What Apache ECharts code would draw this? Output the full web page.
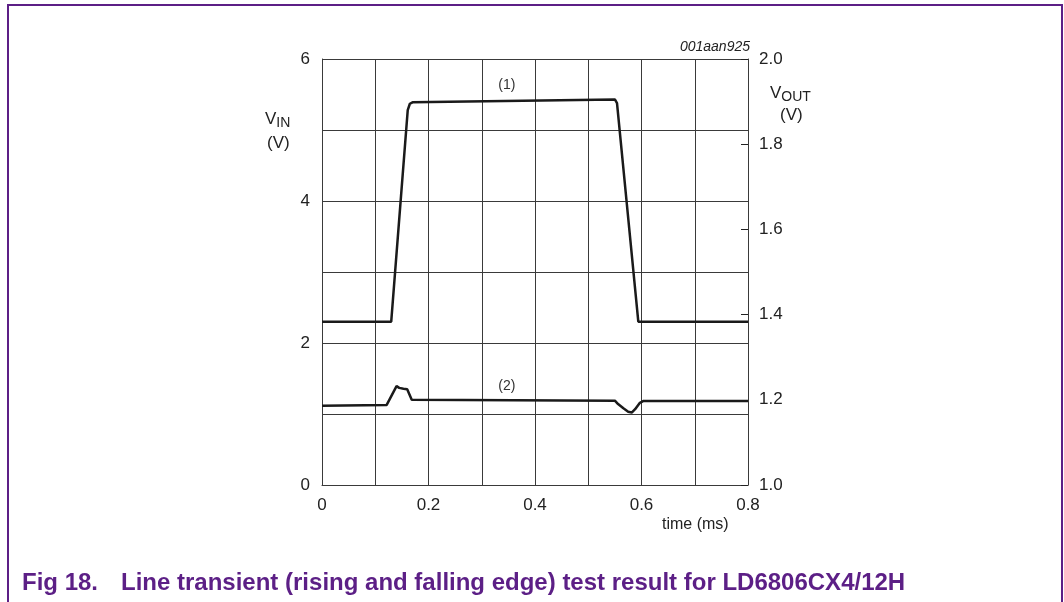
<!DOCTYPE html>
<html>
<head>
<meta charset="utf-8">
<script src="https://cdn.jsdelivr.net/npm/echarts@6/dist/echarts.min.js"></script>
<style>
  html, body { margin: 0; padding: 0; background: #fff; }
  #chart { width: 1064px; height: 602px; }
</style>
</head>
<body>
<div id="chart"></div>
<script>
// time in ms, VIN on left axis (V)
var vinTime = [0, 0.13, 0.161, 0.165, 0.17, 0.55, 0.554, 0.594, 0.8];
var vinValue = [2.3, 2.3, 5.28, 5.37, 5.39, 5.43, 5.38, 2.3, 2.3];

// VOUT on right axis (V)
var voutTime = [0, 0.1215, 0.14, 0.145, 0.153, 0.16, 0.1685, 0.55, 0.556, 0.566, 0.575, 0.5816, 0.588, 0.597, 0.603, 0.8];
var voutValue = [1.186, 1.188, 1.232, 1.228, 1.226, 1.225, 1.2, 1.198, 1.19, 1.18, 1.172, 1.17, 1.178, 1.193, 1.197, 1.197];

var xTickLabels = ['0', '0.2', '0.4', '0.6', '0.8'];
var vinTickLabels = ['0', '2', '4', '6'];

var purple = '#5c1f86';
var gridColor = '#3a3a3a';
var fontFam = '"Liberation Sans", Arial, sans-serif';

function pairs(xs, ys) {
    return xs.map(function (x, i) { return [x, ys[i]]; });
}

var curveLabel = function (coord, text) {
    return {
        coord: coord,
        symbol: 'circle',
        symbolSize: 1,
        itemStyle: { color: 'rgba(0,0,0,0)' },
        label: { show: true, position: 'inside', formatter: text, color: '#333', fontSize: 14, fontFamily: fontFam }
    };
};

var chart = echarts.init(document.getElementById('chart'));

var option = {
    animation: false,
    grid: { left: 322, right: 316, top: 59, bottom: 117 },
    xAxis: {
        type: 'value',
        min: 0, max: 0.8, interval: 0.1,
        axisLine: { lineStyle: { color: gridColor, width: 1 } },
        axisTick: { show: false },
        splitLine: { show: true, lineStyle: { color: gridColor, width: 1 } },
        axisLabel: {
            color: '#222', fontSize: 17, fontFamily: fontFam, margin: 12,
            formatter: function (v) {
                var s = String(Math.round(v * 10) / 10);
                return xTickLabels.indexOf(s) >= 0 ? s : '';
            }
        }
    },
    yAxis: [{
        type: 'value',
        min: 0, max: 6, interval: 1,
        axisLine: { show: true, lineStyle: { color: gridColor, width: 1 } },
        axisTick: { show: false },
        splitLine: { show: true, lineStyle: { color: gridColor, width: 1 } },
        axisLabel: {
            color: '#222', fontSize: 17, fontFamily: fontFam, margin: 12,
            formatter: function (v) {
                var s = String(v);
                return vinTickLabels.indexOf(s) >= 0 ? s : '';
            }
        }
    }, {
        type: 'value',
        position: 'right',
        min: 1, max: 2, interval: 0.2,
        axisLine: { show: true, lineStyle: { color: gridColor, width: 1 } },
        axisTick: { show: true, inside: true, length: 7, lineStyle: { color: '#222', width: 1 } },
        splitLine: { show: false },
        axisLabel: {
            color: '#222', fontSize: 17, fontFamily: fontFam, margin: 11,
            formatter: function (v) { return v.toFixed(1); }
        }
    }],
    series: [{
        name: 'VIN',
        type: 'line',
        yAxisIndex: 0,
        symbol: 'none',
        data: pairs(vinTime, vinValue),
        lineStyle: { color: '#1a1a1a', width: 2.5 },
        markPoint: { data: [curveLabel([0.347, 5.63], '(1)')] }
    }, {
        name: 'VOUT',
        type: 'line',
        yAxisIndex: 1,
        symbol: 'none',
        data: pairs(voutTime, voutValue),
        lineStyle: { color: '#1a1a1a', width: 2.5 },
        markPoint: { data: [curveLabel([0.347, 1.233], '(2)')] }
    }],
    graphic: [{
        type: 'polyline',
        shape: { points: [[8, 602], [8, 5], [1062, 5], [1062, 602]] },
        style: { stroke: purple, lineWidth: 2, fill: null }
    }, {
        type: 'text', left: 265, top: 111,
        style: {
            text: '{v|V}{s|IN}',
            rich: {
                v: { fontSize: 17, fontFamily: fontFam, fill: '#222' },
                s: { fontSize: 14, fontFamily: fontFam, fill: '#222', padding: [8, 0, 0, 0] }
            }
        }
    }, {
        type: 'text', left: 267, top: 135,
        style: { text: '(V)', fontSize: 17, fontFamily: fontFam, fill: '#222' }
    }, {
        type: 'text', left: 770, top: 85,
        style: {
            text: '{v|V}{s|OUT}',
            rich: {
                v: { fontSize: 17, fontFamily: fontFam, fill: '#222' },
                s: { fontSize: 14, fontFamily: fontFam, fill: '#222', padding: [8, 0, 0, 0] }
            }
        }
    }, {
        type: 'text', left: 780, top: 107,
        style: { text: '(V)', fontSize: 17, fontFamily: fontFam, fill: '#222' }
    }, {
        type: 'text', right: 314, top: 40,
        style: { text: '001aan925', fontSize: 14, fontStyle: 'italic', fontFamily: fontFam, fill: '#222' }
    }, {
        type: 'text', left: 662, top: 517,
        style: { text: 'time (ms)', fontSize: 16, fontFamily: fontFam, fill: '#222' }
    }, {
        type: 'text', left: 22, top: 571,
        style: { text: 'Fig 18.', fontSize: 24, fontWeight: 'bold', fontFamily: fontFam, fill: purple }
    }, {
        type: 'text', left: 121, top: 571,
        style: { text: 'Line transient (rising and falling edge) test result for LD6806CX4/12H', fontSize: 24, fontWeight: 'bold', fontFamily: fontFam, fill: purple }
    }]
};

chart.setOption(option);
</script>
</body>
</html>
